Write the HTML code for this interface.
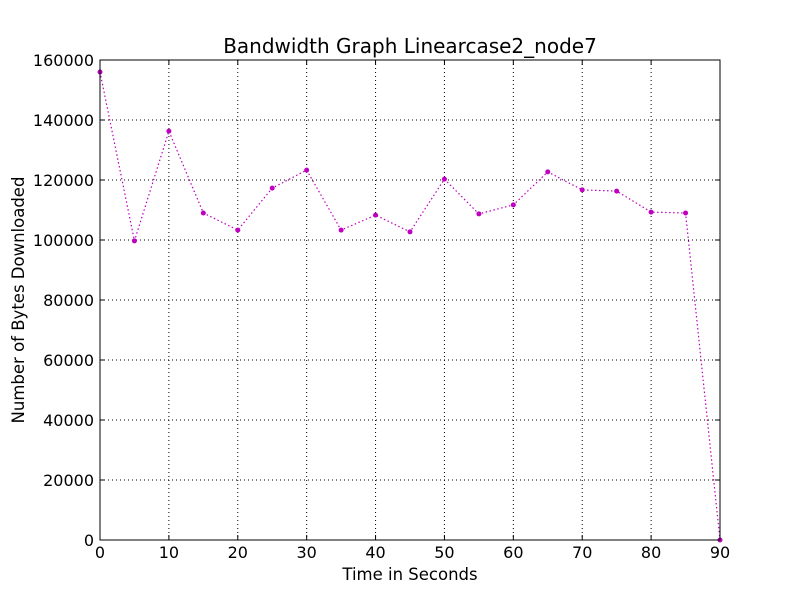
<!DOCTYPE html>
<html><head><meta charset="utf-8"><style>
body{margin:0;background:#fff;}
svg{display:block;font-family:"DejaVu Sans","Liberation Sans",sans-serif;}
</style></head><body>
<svg id="chart" width="800" height="600" viewBox="0 0 800 600">
<rect width="800" height="600" fill="#fff"/>
<text x="410" y="53" font-size="20" text-anchor="middle">Bandwidth Graph Linearcase2_node7</text>
<text x="410" y="580" font-size="16.5" text-anchor="middle">Time in Seconds</text>
<text x="0" y="0" font-size="16.5" text-anchor="middle" transform="translate(24,300) rotate(-90)">Number of Bytes Downloaded</text>
<g id="grid"></g><g id="ticks"></g><g id="series"></g>
<rect x="100" y="60" width="620" height="480" fill="none" stroke="#000" stroke-width="1"/>
</svg>
<script>
const times=[0,5,10,15,20,25,30,35,40,45,50,55,60,65,70,75,80,85,90];
const bytes=[156000,99700,136300,109000,103300,117300,123300,103300,108300,102700,120300,108700,111700,122700,116700,116300,109300,109000,0];
const xTicks=[0,10,20,30,40,50,60,70,80,90];
const yTicks=[0,20000,40000,60000,80000,100000,120000,140000,160000];
const NS="http://www.w3.org/2000/svg";
const x=v=>100+v/90*620, y=v=>540-v/160000*480;
function mk(t,a,p){const e=document.createElementNS(NS,t);for(const k in a)e.setAttribute(k,a[k]);p.appendChild(e);return e;}
const g=document.getElementById('grid'),tk=document.getElementById('ticks'),s=document.getElementById('series');
xTicks.forEach(v=>{
 const l=mk('line',{x1:x(v),x2:x(v),y1:60,y2:540,stroke:'#000','stroke-dasharray':'1,3','stroke-width':1},g);
 
 
 mk('line',{x1:x(v),x2:x(v),y1:540,y2:535,stroke:'#000'},tk);
 mk('line',{x1:x(v),x2:x(v),y1:60,y2:65,stroke:'#000'},tk);
 const t=mk('text',{x:x(v),y:558,'font-size':16,'text-anchor':'middle'},tk);t.textContent=v;
 
 
});
yTicks.forEach(v=>{
 const l=mk('line',{x1:100,x2:720,y1:y(v),y2:y(v),stroke:'#000','stroke-dasharray':'1,3','stroke-width':1},g);
 
 
 mk('line',{x1:100,x2:105,y1:y(v),y2:y(v),stroke:'#000'},tk);
 mk('line',{x1:715,x2:720,y1:y(v),y2:y(v),stroke:'#000'},tk);
 const t=mk('text',{x:94,y:y(v)+6,'font-size':16,'text-anchor':'end'},tk);t.textContent=v;
 
 
});
const pl=mk('polyline',{points:times.map((t,i)=>x(t)+','+y(bytes[i])).join(' '),fill:'none',stroke:'#bf00bf','stroke-width':1.2,'stroke-dasharray':'1.5,2.5'},s);


times.forEach((t,i)=>{
 const c=mk('circle',{cx:x(t),cy:y(bytes[i]),r:2.5,fill:'#bf00bf'},s);
 
 
});
</script>
</body></html>
